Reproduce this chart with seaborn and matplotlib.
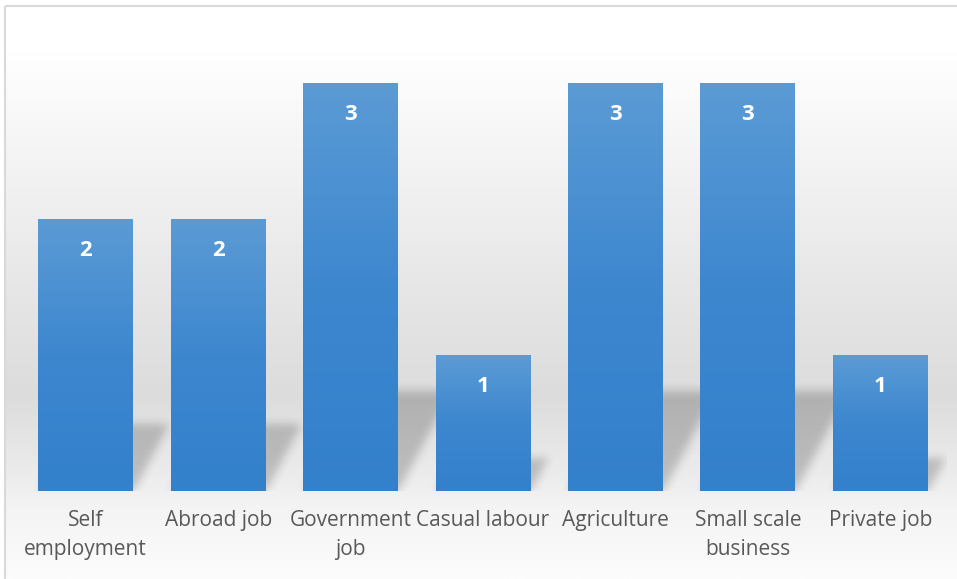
import numpy as np
import matplotlib
matplotlib.use("Agg")
import matplotlib.pyplot as plt
from matplotlib.colors import LinearSegmentedColormap
from matplotlib.patches import Rectangle
import seaborn as sns

# data
categories = ["Self\nemployment", "Abroad job", "Government\njob", "Casual labour",
              "Agriculture", "Small scale\nbusiness", "Private job"]
values = [2, 2, 3, 1, 3, 3, 1]

sns.set_style("white")
plt.rcParams["font.family"] = ["Open Sans", "DejaVu Sans"]

W, H = 957, 579
fig = plt.figure(figsize=(W / 100, H / 100), dpi=100)

# background panel with vertical grey gradient
bg = fig.add_axes([0, 0, 1, 1])
bg.set_xlim(0, W)
bg.set_ylim(H, 0)
bg.axis("off")
bg_cmap = LinearSegmentedColormap.from_list(
    "bg", [(0.0, "#ffffff"), (0.08, "#ffffff"), (0.45, "#e9e9e9"),
           (0.68, "#dcdcdc"), (0.82, "#ececec"), (0.88, "#f4f4f4"), (1.0, "#fcfcfc")])
grad = np.linspace(0, 1, 256).reshape(-1, 1)
bg.imshow(grad, cmap=bg_cmap, extent=(5, W, H, 5), aspect="auto", zorder=0)
bg.add_patch(Rectangle((4.5, 5.5), W, H, fill=False, edgecolor="#d9d9d9", lw=1.5, zorder=1))

# plot area
left, right, top, base = 19.5, 946.5, 30, 491
unit = 136.0
ax = fig.add_axes([left / W, (H - base) / H, (right - left) / W, (base - top) / H])
ax.patch.set_alpha(0)

sns.barplot(x=categories, y=values, color="#4a8fd3", width=0.717, ax=ax, zorder=3)

# soft skewed shadow behind the bars (height follows bar height), blurred on a pixel grid
pw, ph = int(right - left), int(base - top)
slot = (right - left) / len(values)
px = np.arange(pw) + 0.5
py = np.arange(ph) + 0.5            # pixels above baseline
XX, YY = np.meshgrid(px, py)
mask = np.zeros((ph, pw))
for p in ax.patches:
    x0 = (p.get_x() + 0.5) * slot
    x1 = (p.get_x() + p.get_width() + 0.5) * slot
    sh_h = 0.245 * p.get_height() * unit
    shift = 0.53 * YY
    inside = (YY <= sh_h) & (XX >= x0 + shift) & (XX <= x1 + shift)
    mask[inside] = 1.0
k = np.exp(-0.5 * (np.arange(-15, 16) / 4.5) ** 2)
k /= k.sum()
pad = 15
m = np.pad(mask, pad)
m = np.apply_along_axis(lambda r: np.convolve(r, k, mode="same"), 1, m)
m = np.apply_along_axis(lambda c: np.convolve(c, k, mode="same"), 0, m)
m = m[pad:-pad, pad:-pad]
rgba = np.zeros((ph, pw, 4))
rgba[..., 3] = 0.2 * m
ax.imshow(rgba, extent=(-0.5, len(values) - 0.5, 0, ph / unit), origin="lower",
          aspect="auto", zorder=1, interpolation="bilinear")

bar_cmap = LinearSegmentedColormap.from_list("bar", ["#3380cb", "#3d87cf", "#5b9bd5"])
bgrad = np.linspace(0, 1, 128).reshape(-1, 1)
for p, v in zip(ax.patches, values):
    x0 = p.get_x()
    w = p.get_width()
    h = p.get_height()
    p.set_alpha(0)
    ax.imshow(bgrad, cmap=bar_cmap, extent=(x0, x0 + w, 0, h), origin="lower",
              aspect="auto", zorder=3)
    ax.text(x0 + w / 2, h - 31 / unit, str(v), color="white", fontsize=16,
            fontweight="bold", ha="center", va="center", zorder=4)

ax.set_xlim(-0.5, len(values) - 0.5)
ax.set_ylim(0, (base - top) / unit)
ax.set_yticks([])
ax.set_xlabel("")
ax.set_ylabel("")
sns.despine(ax=ax, left=True, bottom=True)
ax.tick_params(axis="x", length=0, pad=14)
for lab in ax.get_xticklabels():
    lab.set_color("#595959")
    lab.set_fontsize(15)
    lab.set_linespacing(1.45)
    lab.set_verticalalignment("top")

fig.savefig("out.png", dpi=100)
